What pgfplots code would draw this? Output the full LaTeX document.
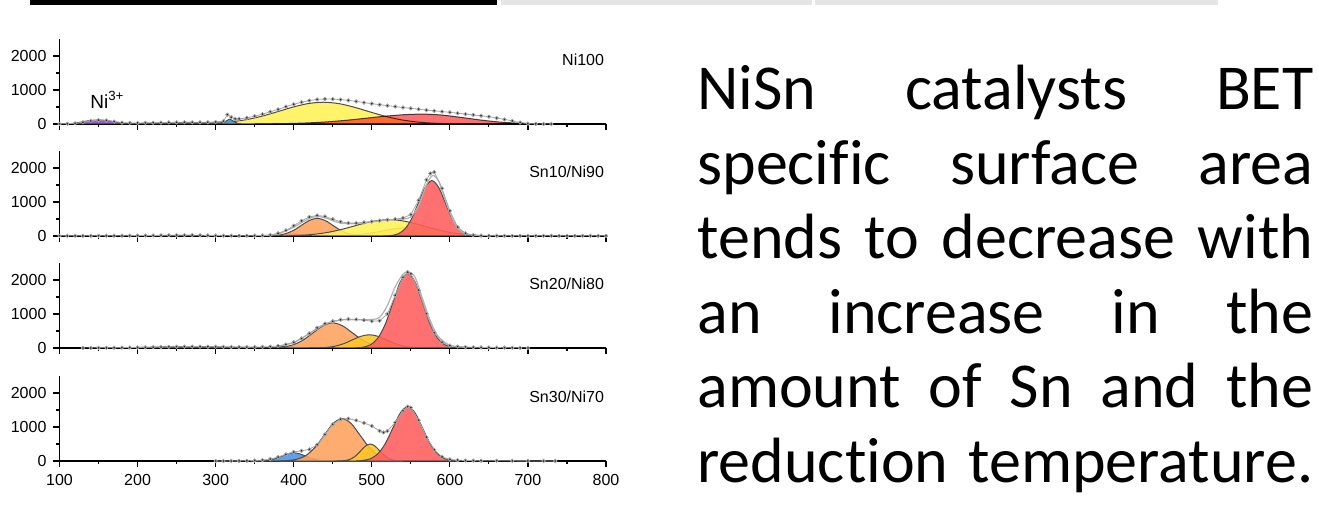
\documentclass[border=0pt]{standalone}
\usepackage{fontspec}
\setmainfont{Liberation Sans}
\newfontfamily\calibri[Ligatures=NoCommon]{Carlito}
\usepackage{pgfplots}
\pgfplotsset{compat=1.18}

\definecolor{cred}{RGB}{255,92,92}
\definecolor{corange}{RGB}{255,160,92}
\definecolor{cyellow}{RGB}{255,242,84}
\definecolor{cgold}{RGB}{255,196,36}
\definecolor{camber}{RGB}{255,178,44}
\definecolor{cblue}{RGB}{72,146,236}
\definecolor{cdblue}{RGB}{40,80,160}
\definecolor{cpurple}{RGB}{150,60,220}
\definecolor{cgreen}{RGB}{40,100,40}
\definecolor{clblue}{RGB}{70,160,210}

\pgfplotsset{
  panel/.style={
    scale only axis, width=273.25pt, height=42.5pt,
    xmin=100, xmax=800, ymin=0, ymax=2500,
    axis lines=left,
    axis line style={-, line width=0.6pt, black},
    xtick={100,200,...,800}, minor xtick={150,250,...,750},
    ytick={0,1000,2000}, minor ytick={500,1500},
    tick align=outside, major tick length=3pt, minor tick length=1.6pt,
    tick style={line width=0.6pt, black},
    ticklabel style={font=\fontsize{8}{9}\selectfont},
    /pgf/number format/assume math mode=true,
    /pgf/number format/1000 sep={},
  },
  nolabels/.style={xticklabels={,,,,,,,,}},
  comp/.style={draw=black!70, line width=0.5pt, fill opacity=0.88, smooth},
  dots/.style={black!35, line width=0.4pt, mark=*, mark size=0.85pt,
    mark options={draw=none, fill=black!85}},
  fit/.style={gray!60, line width=0.6pt, smooth},
}
\tikzset{lbl/.style={anchor=east, inner sep=0pt, font=\fontsize{8}{9}\selectfont}}

\begin{document}
\begin{tikzpicture}
\useasboundingbox (0,0) rectangle (659pt,252pt);

% tab bars at the top
\fill[black] (15pt,249.5pt) rectangle (248.5pt,252pt);
\fill[black!10] (250.5pt,249.5pt) rectangle (406pt,252pt);
\fill[black!10] (407.5pt,249.5pt) rectangle (609pt,252pt);

% Ni100
\begin{axis}[panel, nolabels, at={(29.75pt,190pt)}, anchor=south west]
\addplot[comp, fill=cpurple] coordinates {(100,0)(115,15)(125,45)(135,88)(150,120)(165,88)(175,45)(185,15)(200,0)} \closedcycle;
\addplot[comp, fill=cgreen] coordinates {(180,0)(200,12)(220,24)(240,37)(265,45)(290,37)(310,24)(330,12)(350,0)} \closedcycle;
\addplot[comp, fill=cyellow] coordinates {(290,0)(298,20)(318,59)(338,122)(358,222)(378,353)(398,491)(418,599)(438,640)(458,599)(478,491)(498,353)(518,222)(538,122)(558,59)(578,25)(598,9)(615,0)} \closedcycle;
\addplot[comp, fill=cred, blend mode=multiply] coordinates {(350,0)(365,5)(390,13)(415,29)(440,59)(465,104)(490,163)(515,225)(540,272)(565,290)(590,262)(615,192)(640,115)(665,55)(690,22)(715,7)(730,0)} \closedcycle;
\addplot[comp, fill=clblue] coordinates {(303,0)(308,18)(313,79)(318,140)(323,79)(328,18)(333,0)} \closedcycle;
\addplot[dots] coordinates {(100,5)(110,8)(120,20)(130,50)(140,90)(150,115)(160,105)(170,70)(180,42)(190,32)(200,30)(210,34)(220,38)(230,42)(240,46)(250,48)(260,50)(270,50)(280,50)(290,52)(300,58)(310,85)(315,275)(320,200)(325,150)(330,150)(340,180)(350,230)(360,290)(370,360)(380,430)(390,510)(400,580)(410,640)(420,690)(430,722)(440,735)(450,732)(460,718)(470,695)(480,665)(490,630)(500,598)(510,568)(520,540)(530,512)(540,485)(550,460)(560,435)(570,410)(580,388)(590,365)(600,343)(610,318)(620,292)(630,268)(640,242)(650,216)(660,175)(670,135)(680,90)(690,45)(700,12)(710,4)(720,0)(730,0)};
\node[lbl] at (axis cs:798,1880) {Ni100};
\node[anchor=base west, inner sep=0pt, font=\fontsize{9.5}{10}\selectfont] at (axis cs:139,470) {Ni\textsuperscript{3+}};
\end{axis}

% Sn10/Ni90
\begin{axis}[panel, nolabels, at={(29.75pt,134pt)}, anchor=south west]
\addplot[comp, fill=cdblue] coordinates {(375,0)(385,20)(392,43)(400,60)(408,43)(415,20)(425,0)} \closedcycle;
\addplot[comp, fill=corange] coordinates {(360,0)(370,6)(380,23)(390,70)(400,169)(410,315)(420,459)(430,520)(440,459)(450,315)(460,169)(470,70)(480,23)(490,6)(500,0)} \closedcycle;
\addplot[comp, fill=camber] coordinates {(430,0)(445,3)(462,11)(480,34)(497,81)(515,152)(532,221)(550,250)(567,221)(585,152)(602,81)(620,34)(637,11)(655,3)(665,0)} \closedcycle;
\addplot[comp, fill=cyellow] coordinates {(390,0)(402,14)(417,32)(432,65)(447,120)(462,197)(477,291)(492,384)(507,454)(522,480)(537,454)(552,384)(567,291)(582,197)(597,120)(612,65)(627,32)(642,14)(655,0)} \closedcycle;
\addplot[comp, fill=cred] coordinates {(515,0)(526,18)(534.5,72)(543,221)(551.5,529)(560,989)(568.5,1438)(577,1630)(585.5,1438)(594,989)(602.5,529)(611,221)(619.5,72)(628,18)(635,0)} \closedcycle;
\addplot[fit] coordinates {(360,10)(380,60)(400,260)(420,520)(430,570)(440,540)(450,450)(460,380)(470,360)(480,370)(500,420)(520,470)(540,500)(550,560)(560,900)(570,1500)(578,1780)(586,1600)(595,1000)(605,420)(615,130)(630,20)(650,5)};
\addplot[dots] coordinates {(100,5)(110,5)(120,5)(130,5)(140,5)(150,6)(160,7)(170,8)(180,9)(190,10)(200,12)(210,14)(220,16)(230,19)(240,22)(250,25)(260,26)(270,25)(280,22)(290,17)(300,12)(310,9)(320,8)(330,8)(340,8)(350,10)(360,15)(370,30)(380,80)(390,165)(400,300)(410,445)(420,560)(430,605)(440,575)(450,495)(460,420)(470,380)(480,378)(490,400)(500,425)(510,450)(520,475)(530,495)(540,530)(550,630)(560,1050)(570,1650)(575,1840)(580,1880)(590,1400)(600,740)(610,260)(620,80)(630,25)(640,12)(650,8)(660,6)(670,5)(680,5)(690,5)(700,5)(710,5)(720,5)(730,5)(740,5)(750,5)(760,5)(770,5)(780,5)(790,5)(800,5)};
\node[lbl] at (axis cs:798,1900) {Sn10/Ni90};
\end{axis}

% Sn20/Ni80
\begin{axis}[panel, nolabels, at={(29.75pt,78pt)}, anchor=south west]
\addplot[comp, fill=cgreen] coordinates {(150,0)(170,5)(195,13)(220,24)(245,35)(270,40)(295,35)(320,24)(345,13)(370,5)(390,0)} \closedcycle;
\addplot[comp, fill=cblue] coordinates {(365,0)(375,15)(383,35)(390,45)(397,35)(405,15)(415,0)} \closedcycle;
\addplot[comp, fill=corange] coordinates {(365,0)(375,8)(387.5,32)(400,100)(412.5,240)(425,449)(437.5,653)(450,740)(462.5,653)(475,449)(487.5,240)(500,100)(512.5,32)(525,8)(535,0)} \closedcycle;
\addplot[comp, fill=cgold] coordinates {(420,0)(431,4)(442,17)(453,53)(464,127)(475,237)(486,344)(497,390)(508,344)(519,237)(530,127)(541,53)(552,17)(563,4)(570,0)} \closedcycle;
\addplot[comp, fill=cred] coordinates {(480,0)(489,24)(498.5,97)(508,298)(517.5,714)(527,1334)(536.5,1942)(546,2200)(555.5,1942)(565,1334)(574.5,714)(584,298)(593.5,97)(603,24)(612,0)} \closedcycle;
\addplot[fit] coordinates {(380,50)(400,160)(420,420)(440,700)(460,820)(480,830)(500,840)(510,900)(520,1250)(530,1800)(540,2170)(546,2230)(555,2100)(565,1450)(575,800)(585,350)(600,80)(620,20)};
\addplot[dots] coordinates {(130,0)(140,2)(150,4)(160,6)(170,8)(180,11)(190,14)(200,17)(210,21)(220,25)(230,29)(240,33)(250,37)(260,40)(270,41)(280,40)(290,38)(300,35)(310,32)(320,29)(330,27)(340,26)(350,27)(360,31)(370,40)(380,60)(390,105)(400,170)(410,280)(420,430)(430,595)(440,715)(450,790)(460,830)(470,850)(480,842)(490,820)(500,790)(510,800)(520,1000)(530,1550)(540,2080)(546,2230)(550,2180)(560,1700)(570,1010)(580,450)(590,170)(600,70)(610,42)(620,28)(630,22)(640,18)(650,15)(660,12)(670,9)(680,6)(690,3)(700,0)};
\node[lbl] at (axis cs:798,1900) {Sn20/Ni80};
\end{axis}

% Sn30/Ni70
\begin{axis}[panel, at={(29.75pt,21.5pt)}, anchor=south west]
\addplot[comp, fill=cblue] coordinates {(345,0)(355,3)(362.5,11)(370,32)(377.5,78)(385,146)(392.5,212)(400,240)(407.5,212)(415,146)(422.5,78)(430,32)(437.5,11)(445,3)(452,0)} \closedcycle;
\addplot[comp, fill=corange] coordinates {(383,0)(393,14)(404.5,55)(416,169)(427.5,406)(439,758)(450.5,1103)(462,1250)(473.5,1103)(485,758)(496.5,406)(508,169)(519.5,55)(531,14)(540,0)} \closedcycle;
\addplot[comp, fill=cgold] coordinates {(455,0)(462,6)(468,22)(474,68)(480,162)(486,303)(492,441)(498,500)(504,441)(510,303)(516,162)(522,68)(528,22)(534,6)(540,0)} \closedcycle;
\addplot[comp, fill=cred] coordinates {(480,0)(489,18)(498.5,70)(508,216)(517.5,520)(527,970)(536.5,1412)(546,1600)(555.5,1412)(565,970)(574.5,520)(584,216)(593.5,70)(603,18)(612,0)} \closedcycle;
\addplot[dots] coordinates {(300,0)(310,1)(320,2)(330,4)(340,7)(350,14)(360,28)(370,58)(380,115)(390,195)(400,265)(410,300)(420,340)(430,480)(440,780)(450,1080)(460,1230)(470,1245)(480,1195)(490,1120)(500,1030)(510,885)(515,840)(520,880)(530,1130)(540,1480)(546,1600)(550,1570)(560,1200)(570,700)(580,330)(590,120)(600,48)(610,24)(620,15)(630,11)(640,9)(660,7)(680,5)(700,3)(720,1)(735,0)};
\node[lbl] at (axis cs:798,1900) {Sn30/Ni70};
\end{axis}

% text on the right
\begin{scope}[every node/.style={anchor=base west, inner sep=0pt, font=\calibri\fontsize{32}{36}\selectfont}]
\node at (348.5pt,197pt) {\makebox[308pt][s]{NiSn catalysts BET}};
\node at (348.5pt,159.8pt) {\makebox[308pt][s]{specific surface area}};
\node at (348.5pt,122.6pt) {\makebox[308pt][s]{tends to decrease with}};
\node at (348.5pt,85.4pt) {\makebox[308pt][s]{an increase in the}};
\node at (348.5pt,48.2pt) {\makebox[308pt][s]{amount of Sn and the}};
\node at (348.5pt,11pt) {\makebox[308pt][s]{reduction temperature.}};
\end{scope}
\end{tikzpicture}
\end{document}
